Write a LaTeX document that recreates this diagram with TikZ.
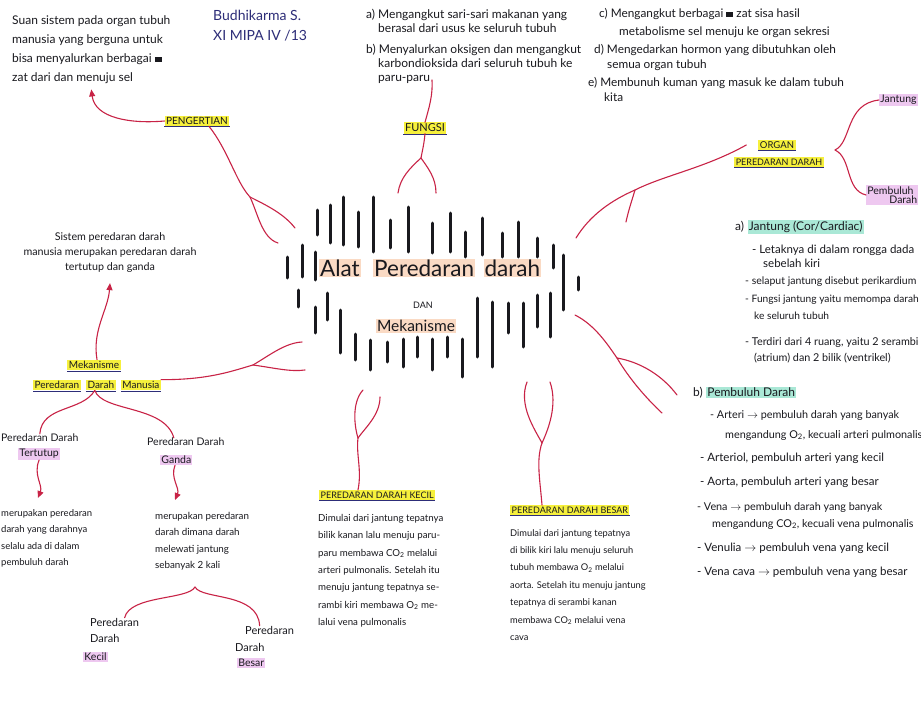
\documentclass[tikz,border=0pt]{standalone}
\usepackage{fontspec}
\setmainfont{Lato}
\usetikzlibrary{arrows.meta, positioning}
\definecolor{myred}{RGB}{200,35,70}
\definecolor{myink}{RGB}{25,25,30}
\definecolor{mynavy}{RGB}{45,45,120}
\definecolor{hlyellow}{RGB}{246,240,60}
\definecolor{hlorange}{RGB}{250,218,196}
\definecolor{hlpink}{RGB}{238,200,240}
\definecolor{hlteal}{RGB}{170,232,214}
\tikzset{
  note/.style={text=myink, align=left, anchor=north west, inner sep=0pt,
    font=\fontsize{12}{17}\selectfont},
  keyword/.style={fill=hlyellow, text=myink, inner sep=1.5pt,
    font=\fontsize{9}{10}\selectfont},
  peach/.style={fill=hlorange, text=myink, inner sep=1pt},
  lilac/.style={fill=hlpink, text=myink, inner sep=1.2pt,
    font=\fontsize{10.5}{12}\selectfont},
  mint/.style={fill=hlteal, text=myink, inner sep=1.2pt,
    font=\fontsize{12}{14}\selectfont},
  uline/.style={mynavy, line width=0.8pt},
  branch/.style={myred, line width=1.1pt, line cap=round},
  redarrow/.style={branch, -{Triangle[length=7pt, width=6pt]}},
  tick/.style={myink, line width=3pt, line cap=round}
}
\begin{document}
\begin{tikzpicture}[x=1pt, y=-1pt]
  \fill[white] (0,0) rectangle (921,728);
  \useasboundingbox (0,0) rectangle (921,728);
  % Top left: definition and name
  \node[note, font=\fontsize{12}{19}\selectfont] (defn) at (12,15)
    {Suan sistem pada organ tubuh\\ manusia yang berguna untuk\\
     bisa menyalurkan berbagai \rule{7pt}{5pt}\\ zat dari dan menuju sel};
  \node[note, font=\fontsize{14}{20}\selectfont, text=mynavy] (author) at (213,10)
    {Budhikarma S.\\ XI MIPA IV /13};
  \node[keyword, font=\fontsize{10}{11}\selectfont] (pengertian) at (197,121) {PENGERTIAN};
  % Fungsi
  \node[note, font=\fontsize{12}{14}\selectfont] (fungsiA) at (366,9)
    {a) Mengangkut sari-sari makanan yang\\ \hspace*{12pt}berasal dari usus ke seluruh tubuh};
  \node[note, font=\fontsize{12}{14}\selectfont] (fungsiB) at (366,44)
    {b) Menyalurkan oksigen dan mengangkut\\ \hspace*{12pt}karbondioksida dari seluruh tubuh ke\\
     \hspace*{12pt}paru-paru};
  \node[note, font=\fontsize{11.8}{18}\selectfont] (fungsiC) at (599,8)
    {c) Mengangkut berbagai \rule{7pt}{5pt} zat sisa hasil\\
     \hspace*{20pt}metabolisme sel menuju ke organ sekresi};
  \node[note, font=\fontsize{11.8}{15.5}\selectfont] (fungsiD) at (594,44)
    {d) Mengedarkan hormon yang dibutuhkan oleh\\ \hspace*{13pt}semua organ tubuh};
  \node[note, font=\fontsize{11.8}{15.5}\selectfont] (fungsiE) at (588,77)
    {e) Membunuh kuman yang masuk ke dalam tubuh\\ \hspace*{16pt}kita};
  \node[keyword, font=\fontsize{11}{12}\selectfont] (fungsi) at (425,128) {FUNGSI};
  % Organ peredaran darah
  \node[keyword, font=\fontsize{9.5}{10}\selectfont] (organA) at (777,145) {ORGAN};
  \node[keyword, font=\fontsize{9}{10}\selectfont] (organB) at (779,162) {PEREDARAN DARAH};
  \node[lilac, anchor=west, font=\fontsize{10.5}{12}\selectfont] (jantung) at (879,100) {Jantung};
  \node[lilac, anchor=west, align=left] (pembuluh) at (866,195)
    {Pembuluh\\[-3pt] \hspace*{22pt}Darah};
  % Jantung
  \node[note, anchor=west] (jantA) at (735,227) {a)};
  \node[mint, base right=3pt of jantA] (jantT) {Jantung (Cor/Cardiac)};
  \node[note, font=\fontsize{11.5}{14}\selectfont] (letak) at (752,245)
    {- Letaknya di dalam rongga dada\\ \hspace*{11pt}sebelah kiri};
  \node[note, font=\fontsize{10.5}{14}\selectfont] (selaput) at (745,277) {- selaput jantung disebut perikardium};
  \node[note, font=\fontsize{10.2}{17}\selectfont] (fungsiJ) at (745,295)
    {- Fungsi jantung yaitu memompa darah\\ \hspace*{9pt}ke seluruh tubuh};
  \node[note, font=\fontsize{10.8}{16}\selectfont] (terdiri) at (745,337)
    {- Terdiri dari 4 ruang, yaitu 2 serambi\\ \hspace*{9pt}(atrium) dan 2 bilik (ventrikel)};
  % Pembuluh darah
  \node[note, anchor=west] (pembA) at (693,393) {b)};
  \node[mint, base right=3pt of pembA] (pembT) {Pembuluh Darah};
  \node[note, font=\fontsize{10.8}{20}\selectfont] (arteri) at (710,410)
    {- Arteri $\rightarrow$ pembuluh darah yang banyak\\
     \hspace*{15pt}mengandung O\textsubscript{2}, kecuali arteri pulmonalis};
  \node[note, font=\fontsize{11.5}{14}\selectfont] (arteriol) at (700,453) {- Arteriol, pembuluh arteri yang kecil};
  \node[note, font=\fontsize{11.5}{14}\selectfont] (aorta) at (700,477) {- Aorta, pembuluh arteri yang besar};
  \node[note, font=\fontsize{10.8}{17}\selectfont] (vena) at (697,502)
    {- Vena $\rightarrow$ pembuluh darah yang banyak\\
     \hspace*{15pt}mengandung CO\textsubscript{2}, kecuali vena pulmonalis};
  \node[note, font=\fontsize{11.5}{14}\selectfont] (venulia) at (697,543) {- Venulia $\rightarrow$ pembuluh vena yang kecil};
  \node[note, font=\fontsize{11.5}{14}\selectfont] (venacava) at (697,567) {- Vena cava $\rightarrow$ pembuluh vena yang besar};
  % Central title
  \node[peach, font=\fontsize{22.5}{26}\selectfont] (alat) at (340,268) {Alat};
  \node[peach, font=\fontsize{22.5}{26}\selectfont, base right=12pt of alat] (peredaran) {Peredaran};
  \node[peach, font=\fontsize{22.5}{26}\selectfont, base right=8pt of peredaran] (darah) {darah};
  \node[text=myink, font=\fontsize{9}{10}\selectfont] (dan) at (423,305) {DAN};
  \node[peach, font=\fontsize{15.5}{18}\selectfont] (mekanisme) at (416,326) {Mekanisme};
  \foreach \x/\a/\b in {317/210/235, 330/205/243, 343/197/245, 358/212/247,
      373/197/252, 390/220/248, 408/207/252, 432/223/253, 450/213/252,
      465/232/257, 482/218/255, 502/233/257, 518/222/257, 537/238/257,
      553/245/268, 563/255/310, 578/277/290, 287/257/278, 302/245/277,
      315/252/280, 298/290/307, 327/293/320, 315/307/333, 340/310/353,
      355/334/360, 370/340/370, 387/342/362, 403/339/367, 417/337/357,
      432/339/370, 447/337/357, 462/339/377, 477/298/357, 492/302/367,
      508/303/333, 523/303/347, 537/295/327, 550/293/337}
    \draw[tick] (\x,\a) -- (\x,\b);
  % Mekanisme peredaran darah manusia
  \node[text=myink, align=center, inner sep=0pt, font=\fontsize{10.7}{15}\selectfont] (sistem) at (110,253)
    {Sistem peredaran darah\\ manusia merupakan peredaran darah\\ tertutup dan ganda};
  \node[keyword, font=\fontsize{10}{12}\selectfont] (mek) at (94,365) {Mekanisme};
  \node[keyword, font=\fontsize{10}{12}\selectfont, anchor=west] (mpered) at (33,385) {Peredaran};
  \node[keyword, font=\fontsize{10}{12}\selectfont, base right=5pt of mpered] (mdarah) {Darah};
  \node[keyword, font=\fontsize{10}{12}\selectfont, base right=5pt of mdarah] (mmanusia) {Manusia};
  \node[note, anchor=west, font=\fontsize{10.5}{12}\selectfont] (tertA) at (1,438) {Peredaran Darah};
  \node[lilac, anchor=west] (tertB) at (18,454) {Tertutup};
  \node[note, anchor=west, font=\fontsize{10.5}{12}\selectfont] (gandaA) at (147,442) {Peredaran Darah};
  \node[lilac, anchor=west] (gandaB) at (160,460) {Ganda};
  \node[note, font=\fontsize{9.5}{16.5}\selectfont] (tertText) at (1,509)
    {merupakan peredaran\\ darah yang darahnya\\ selalu ada di dalam\\ pembuluh darah};
  \node[note, font=\fontsize{9.8}{16.5}\selectfont] (gandaText) at (155,512)
    {merupakan peredaran\\ darah dimana darah\\ melewati jantung\\ sebanyak 2 kali};
  \node[note, anchor=west, font=\fontsize{11}{12}\selectfont] (kecilA) at (90,622) {Peredaran};
  \node[note, anchor=west, font=\fontsize{11}{12}\selectfont] (kecilB) at (90,638) {Darah};
  \node[lilac, anchor=west] (kecilC) at (83,657) {Kecil};
  \node[note, anchor=west, font=\fontsize{11}{12}\selectfont] (besarA) at (245,630) {Peredaran};
  \node[note, anchor=west, font=\fontsize{11}{12}\selectfont] (besarB) at (235,647) {Darah};
  \node[lilac, anchor=west] (besarC) at (237,663) {Besar};
  % Peredaran darah kecil dan besar
  \node[keyword, anchor=west] (dkecil) at (319,495) {PEREDARAN DARAH KECIL};
  \node[note, font=\fontsize{9.7}{17.4}\selectfont] (kecilText) at (318,514)
    {Dimulai dari jantung tepatnya\\ bilik kanan lalu menuju paru-\\
     paru membawa CO\textsubscript{2} melalui\\ arteri pulmonalis. Setelah itu\\
     menuju jantung tepatnya se-\\ rambi kiri membawa O\textsubscript{2} me-\\
     lalui vena pulmonalis};
  \node[keyword, anchor=west] (dbesar) at (510,510) {PEREDARAN DARAH BESAR};
  \node[note, font=\fontsize{9.3}{17.4}\selectfont] (besarText) at (510,529)
    {Dimulai dari jantung tepatnya\\ di bilik kiri lalu menuju seluruh\\
     tubuh membawa O\textsubscript{2} melalui\\ aorta. Setelah itu menuju jantung\\
     tepatnya di serambi kanan\\ membawa CO\textsubscript{2} melalui vena\\ cava};
  \foreach \n in {pengertian, fungsi, organA, organB, mek, mpered, mdarah,
      mmanusia, dkecil, dbesar}
    \draw[uline] ([yshift=-0.5pt]\n.south west) -- ([yshift=-0.5pt]\n.south east);
  % Free ends of the branches
  \coordinate (pfork) at (250,197);
  \coordinate (pendA) at (295,228);
  \coordinate (pendB) at (278,243);
  \coordinate (paru) at (432,80);
  \coordinate (ffork) at (421,158);
  \coordinate (fendA) at (398,193);
  \coordinate (fendB) at (436,193);
  \coordinate (ofork) at (635,190);
  \coordinate (oendA) at (576,238);
  \coordinate (oendB) at (626,222);
  \coordinate (obrace) at (835,150);
  \coordinate (rstart) at (575,315);
  \coordinate (rfork) at (617,358);
  \coordinate (rendA) at (677,395);
  \coordinate (rendB) at (662,413);
  \coordinate (kfork) at (358,438);
  \coordinate (kendA) at (363,390);
  \coordinate (kendB) at (380,397);
  \coordinate (bfork) at (542,443);
  \coordinate (bendA) at (527,382);
  \coordinate (bendB) at (550,382);
  \coordinate (mfork) at (253,365);
  \coordinate (mendA) at (302,342);
  \coordinate (mendB) at (305,370);
  \coordinate (ttip) at (38,498);
  \coordinate (gtip) at (175,500);
  \coordinate (gbrace) at (195,587);
  % Pengertian
  \draw[redarrow] (pengertian.west) .. controls (130,124) and (95,118) .. ([yshift=-6pt]defn.south);
  \draw[branch] ([xshift=12pt]pengertian.south) .. controls (228,150) and (236,182) .. (pfork);
  \draw[branch] (pfork) .. controls (268,206) and (284,214) .. (pendA);
  \draw[branch] (pfork) .. controls (258,214) and (262,238) .. (pendB);
  % Fungsi
  \draw[branch] (paru) .. controls (433,95) and (429,108) .. (fungsi.north);
  \draw[branch] (fungsi.south) .. controls (424,145) and (422,152) .. (ffork);
  \draw[branch] (ffork) .. controls (410,168) and (400,178) .. (fendA);
  \draw[branch] (ffork) .. controls (428,168) and (436,178) .. (fendB);
  % Organ
  \draw[branch] ([xshift=-12pt]organA.west) .. controls (705,168) and (665,175) .. (ofork)
    .. controls (612,200) and (590,215) .. (oendA);
  \draw[branch] (ofork) .. controls (632,200) and (628,212) .. (oendB);
  \draw[branch] (obrace) .. controls (852,142) and (845,104) .. (jantung.west);
  \draw[branch] (obrace) .. controls (852,158) and (845,190) .. (pembuluh.west);
  % Right of the title
  \draw[branch] (rstart) .. controls (595,325) and (608,345) .. (rfork);
  \draw[branch] (rfork) .. controls (640,362) and (662,375) .. (rendA);
  \draw[branch] (rfork) .. controls (630,380) and (648,400) .. (rendB);
  % Below the title
  \draw[branch] (kendA) .. controls (352,402) and (354,425) .. (kfork);
  \draw[branch] (kendB) .. controls (380,415) and (365,428) .. (kfork);
  \draw[branch] (kfork) .. controls (356,455) and (362,470) .. (kfork |- dkecil.north);
  \draw[branch] (bendA) .. controls (518,405) and (535,430) .. (bfork);
  \draw[branch] (bendB) .. controls (558,405) and (548,430) .. (bfork);
  \draw[branch] (bfork) .. controls (536,460) and (540,480) .. (bfork |- dbesar.north);
  % Mekanisme
  \draw[redarrow] ([xshift=3pt]mek.north) .. controls (92,330) and (108,310) .. ([yshift=-10pt]sistem.south);
  \draw[branch] (mmanusia.north east) .. controls (210,380) and (235,370) .. (mfork);
  \draw[branch] (mfork) .. controls (270,355) and (285,343) .. (mendA);
  \draw[branch] (mfork) .. controls (275,368) and (290,372) .. (mendB);
  \draw[branch] ([xshift=-6pt]mdarah.south) .. controls (82,412) and (42,405) .. (tertA.north);
  \draw[branch] ([xshift=-6pt]mdarah.south) .. controls (102,412) and (165,405) .. ([xshift=-12pt]gandaA.north);
  \draw[redarrow] (tertB.south) .. controls (33,475) and (43,485) .. (ttip);
  \draw[redarrow] (gandaB.south -| gtip) .. controls (170,478) and (180,488) .. (gtip);
  \draw[branch] (gbrace) .. controls (188,600) and (130,595) .. ([xshift=10pt]kecilA.north);
  \draw[branch] (gbrace) .. controls (202,600) and (258,592) .. ([xshift=-10pt]besarA.north);
\end{tikzpicture}
\end{document}
